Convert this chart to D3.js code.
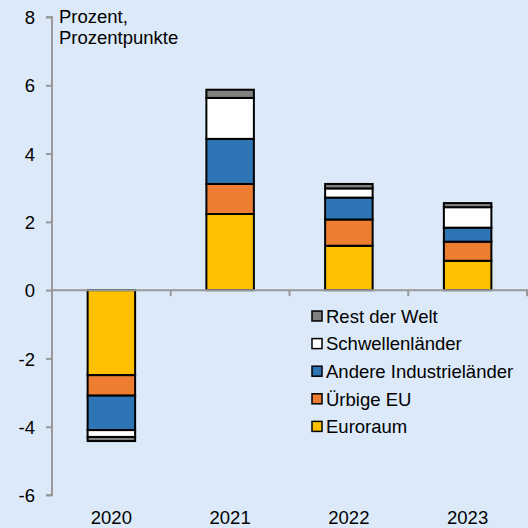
<!DOCTYPE html>
<html>
<head>
<meta charset="utf-8">
<script src="https://d3js.org/d3.v7.min.js"></script>
<style>
  body { margin: 0; background: #dce9f8; }
  svg { display: block; font-family: "Liberation Sans", Arial, sans-serif; }
</style>
</head>
<body>
<div id="chart"></div>
<script>
const years = ["2020", "2021", "2022", "2023"];
const series = ["Euroraum", "Ürbige EU", "Andere Industrieländer", "Schwellenländer", "Rest der Welt"];
const colors = ["#ffc000", "#ed7d31", "#2e75b6", "#ffffff", "#808080"];
const euroraum = [-2.49, 2.23, 1.30, 0.86];
const uebrigeEU = [-0.60, 0.88, 0.77, 0.56];
const andereInd = [-1.01, 1.32, 0.64, 0.41];
const schwellen = [-0.20, 1.20, 0.27, 0.60];
const restWelt = [-0.12, 0.24, 0.13, 0.12];
const yTicks = [-6, -4, -2, 0, 2, 4, 6, 8];

const w = 528, h = 528;
const fs = "18.5px";
const rows = years.map((y, i) => ({
  year: y,
  "Euroraum": euroraum[i],
  "Ürbige EU": uebrigeEU[i],
  "Andere Industrieländer": andereInd[i],
  "Schwellenländer": schwellen[i],
  "Rest der Welt": restWelt[i]
}));

const svg = d3.select("#chart").append("svg").attr("width", w).attr("height", h);

const xScale = d3.scaleBand().domain(years).range([52, 527]).paddingInner(0.6).paddingOuter(0.3);
const yScale = d3.scaleLinear().domain([-6, 8]).range([495, 17]);
const color = d3.scaleOrdinal().domain(series).range(colors);

const stacked = d3.stack().keys(series).offset(d3.stackOffsetDiverging)(rows);

// bars
svg.append("g")
  .selectAll("g")
  .data(stacked)
  .join("g")
  .attr("fill", d => color(d.key))
  .selectAll("rect")
  .data(d => d)
  .join("rect")
  .attr("x", d => xScale(d.data.year))
  .attr("width", xScale.bandwidth())
  .attr("y", d => yScale(Math.max(d[0], d[1])))
  .attr("height", d => Math.abs(yScale(d[0]) - yScale(d[1])))
  .attr("stroke", "#000")
  .attr("stroke-width", 2);

// y-axis
const yAxis = svg.append("g")
  .attr("transform", "translate(52,0)")
  .call(d3.axisLeft(yScale).tickValues(yTicks).tickSize(6).tickPadding(11).tickFormat(d => String(d)));
yAxis.select(".domain").attr("stroke", "#999").attr("stroke-width", 2).attr("d", "M-6,17H0V495H-6");
yAxis.selectAll(".tick line").attr("stroke", "#999").attr("stroke-width", 2);
yAxis.selectAll(".tick text").style("font-size", fs).attr("fill", "#000").attr("dy", "0.36em");

// x-axis at zero
const xLine = svg.append("g").attr("transform", "translate(0," + yScale(0) + ")");
xLine.append("line").attr("x1", 52).attr("x2", 528).attr("stroke", "#999").attr("stroke-width", 2);
xLine.selectAll(".sep")
  .data(years)
  .join("line")
  .attr("class", "sep")
  .attr("x1", d => xScale(d) + xScale.bandwidth() / 2 + xScale.step() / 2)
  .attr("x2", d => xScale(d) + xScale.bandwidth() / 2 + xScale.step() / 2)
  .attr("y1", 0).attr("y2", 6)
  .attr("stroke", "#999").attr("stroke-width", 2);

// year labels at bottom
svg.append("g")
  .selectAll("text")
  .data(years)
  .join("text")
  .attr("x", d => xScale(d) + xScale.bandwidth() / 2)
  .attr("y", 524)
  .attr("text-anchor", "middle")
  .style("font-size", fs)
  .text(d => d);

// unit label
svg.append("text").attr("x", 59).attr("y", 23).style("font-size", fs).text("Prozent,");
svg.append("text").attr("x", 59).attr("y", 44).style("font-size", fs).text("Prozentpunkte");

// legend
const legendOrder = series.slice().reverse();
const legend = svg.append("g")
  .selectAll("g")
  .data(legendOrder)
  .join("g")
  .attr("transform", (d, i) => "translate(312," + (316 + i * 27.6) + ")");
legend.append("rect")
  .attr("x", 0).attr("y", -5)
  .attr("width", 10).attr("height", 10)
  .attr("fill", d => color(d))
  .attr("stroke", "#000").attr("stroke-width", 1.5);
legend.append("text")
  .attr("x", 14).attr("y", 6.7)
  .style("font-size", fs)
  .text(d => d);
</script>
</body>
</html>
